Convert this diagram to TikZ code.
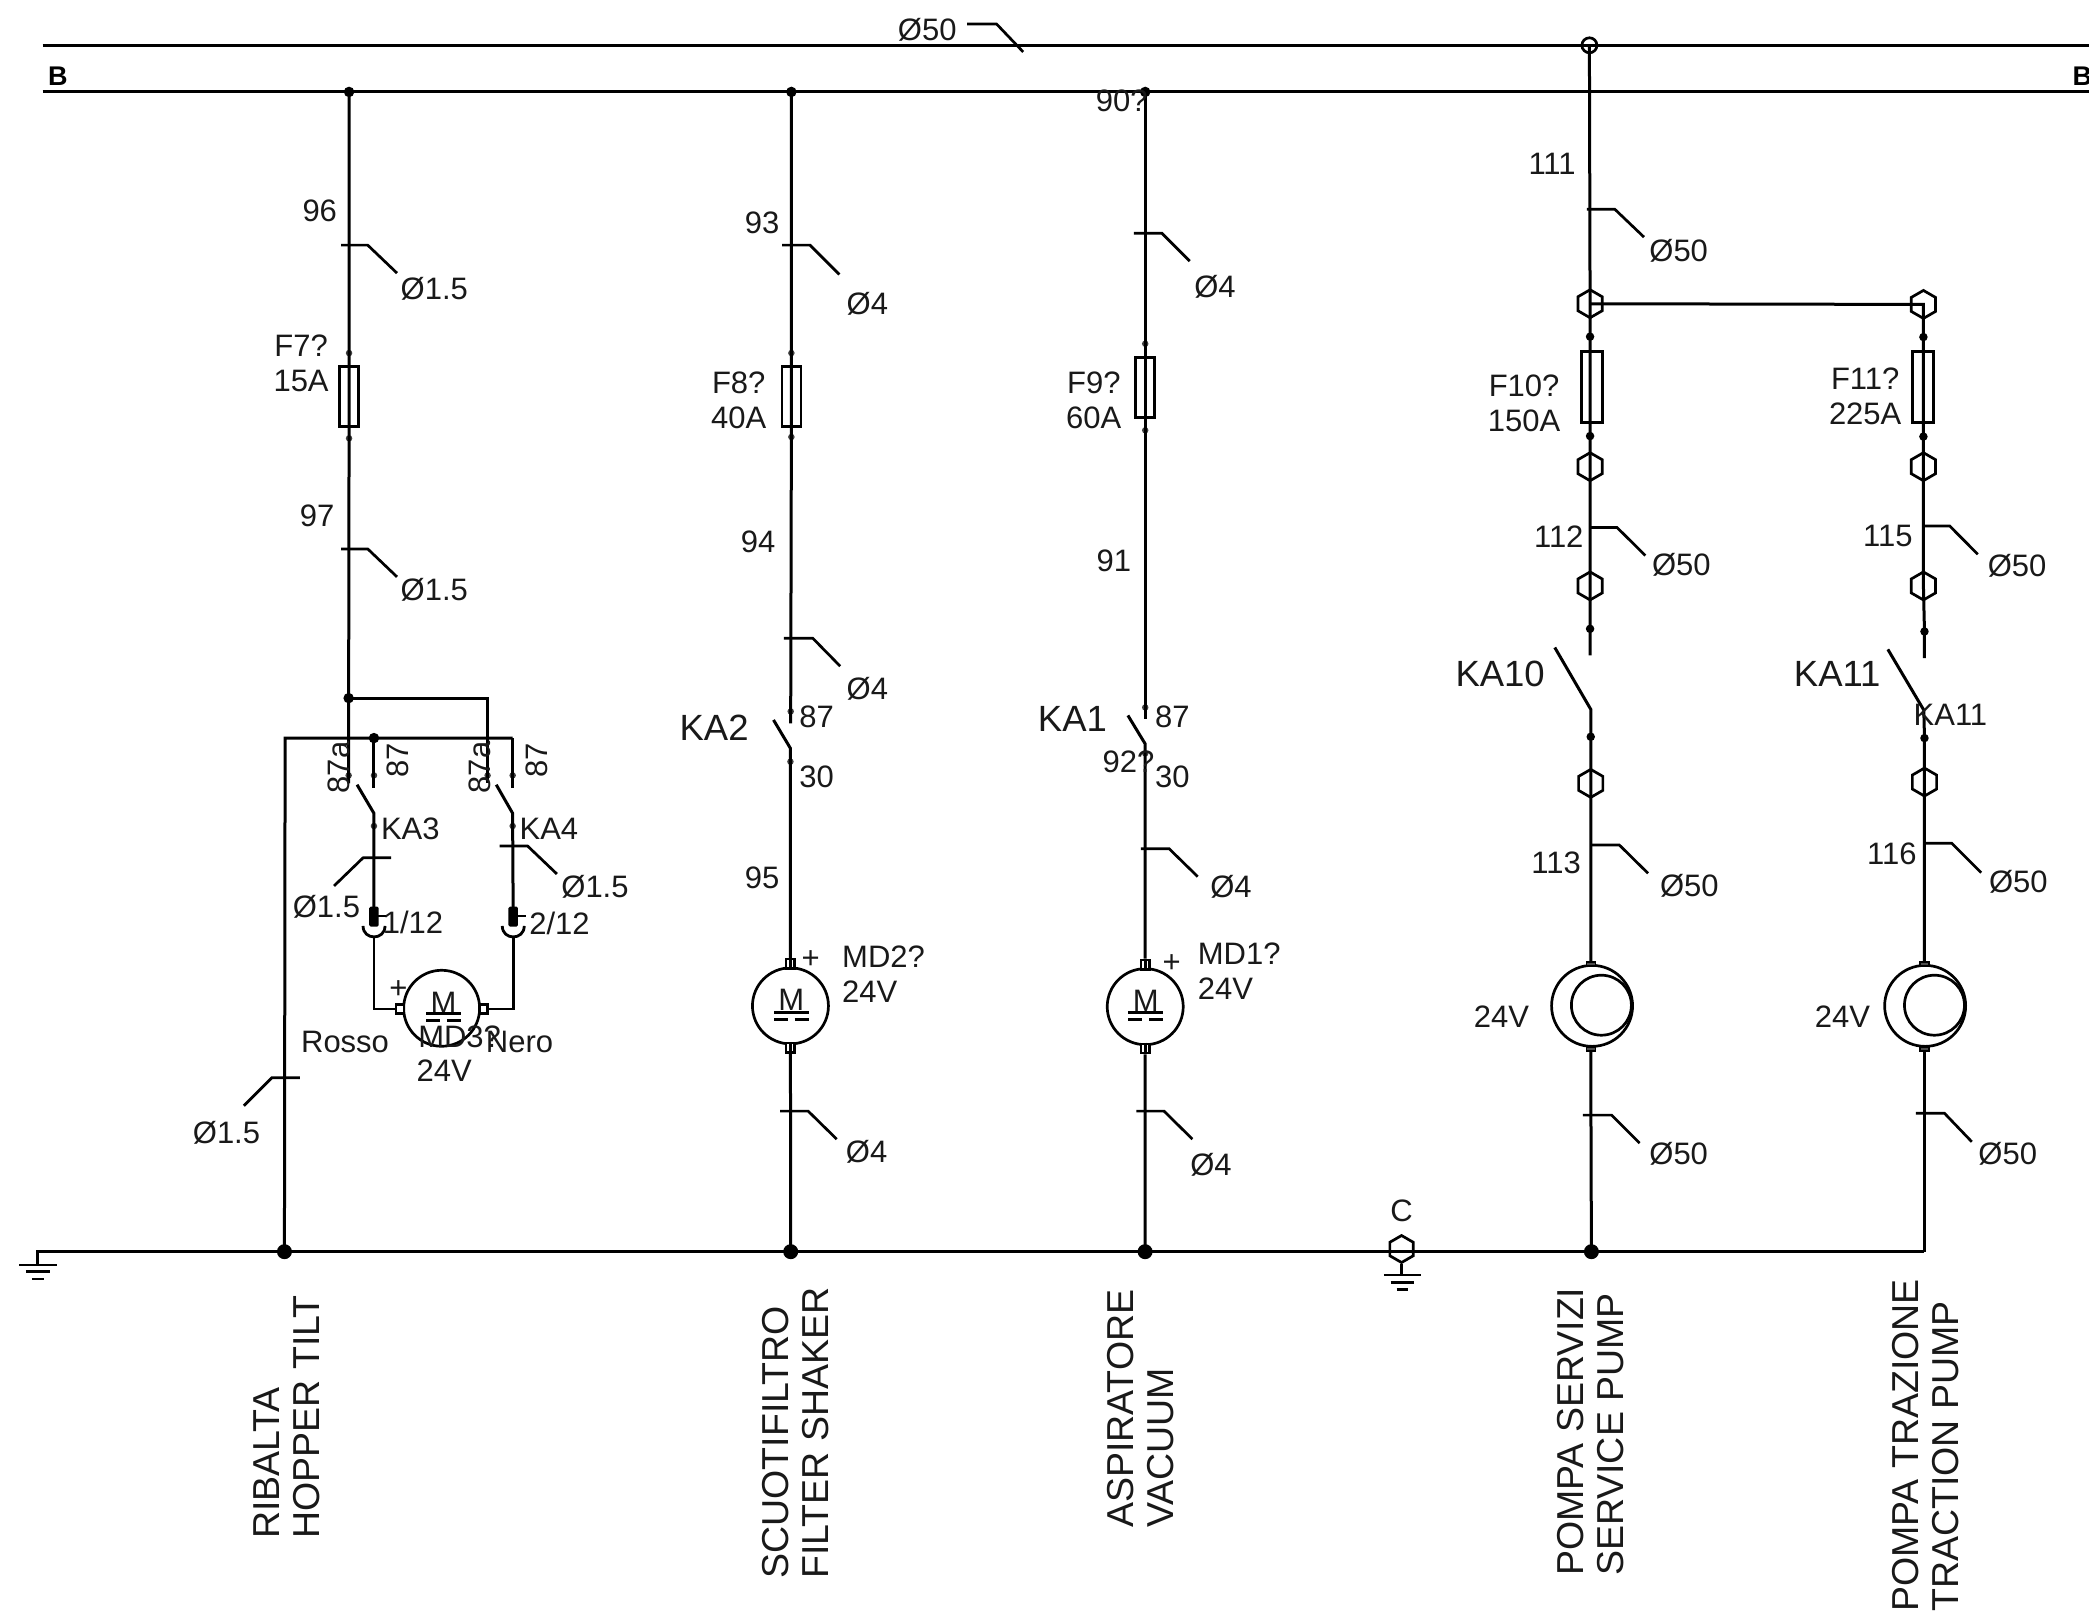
\documentclass[tikz,border=0pt]{standalone}
\usepackage{fontspec}
\setmainfont{Liberation Sans}
\usetikzlibrary{shapes.geometric}
\tikzset{
  wire/.style={line width=3pt,line join=miter,line cap=butt},
  thin wire/.style={line width=2.8pt},
  tagline/.style={line width=2.7pt},
  lbl/.style={inner sep=0pt,font=\fontsize{31}{35}\selectfont,text=black!90},
  biglbl/.style={inner sep=0pt,font=\fontsize{36.5}{40}\selectfont,text=black!90},
  vertlbl/.style={inner sep=0pt,rotate=90,anchor=west,align=left,font=\fontsize{37.5}{40}\selectfont,text=black!90},
  busname/.style={inner sep=0pt,font=\fontsize{27}{30}\bfseries\selectfont},
  bigdot/.style={circle,fill=black,inner sep=0pt,minimum size=15pt},
  busdot/.style={circle,fill=black,inner sep=0pt,minimum size=10.5pt},
  tinydot/.style={circle,fill=black,inner sep=0pt,minimum size=8.5pt},
  faintdot/.style={circle,fill=black!75,inner sep=0pt,minimum size=6.5pt},
  hexnode/.style={regular polygon,regular polygon sides=6,regular polygon rotate=30,draw,line width=2.7pt,inner sep=0pt,minimum size=28pt},
  fusebox/.style={rectangle,draw,line width=2.7pt,inner sep=0pt,minimum width=#1},
  motor/.style={circle,draw,line width=2.7pt,inner sep=0pt,minimum size=#1},
  term/.style={rectangle,draw,fill=white,line width=2.4pt,inner sep=0pt,minimum width=8.5pt,minimum height=9.5pt},
  pumpterm/.style={rectangle,draw,fill=black!70,line width=1.5pt,inner sep=0pt,minimum width=9pt,minimum height=4pt},
  pad/.style={rectangle,rounded corners=1.5pt,fill=black,inner sep=0pt,minimum width=9.5pt,minimum height=20pt},
}
\newcommand{\wiretag}[6]{% id, x start, y, x knee, x end, y end
  \coordinate (#1s) at (#2,#3);
  \coordinate (#1k) at (#4,#3);
  \coordinate (#1e) at (#5,#6);
  \draw[tagline] (#1s) -- (#1k) -- (#1e);
}
\newcommand{\groundsym}[5]{% id, x, y1, half widths handled with fixed ratios
  \coordinate (#1l1) at (#2-14,#3);
  \coordinate (#1r1) at (#2+14,#3);
  \coordinate (#1l2) at (#2-9,#4);
  \coordinate (#1r2) at (#2+9,#4);
  \coordinate (#1l3) at (#2-4.5,#5);
  \coordinate (#1r3) at (#2+4.5,#5);
  \draw[thin wire] (#1l1) -- (#1r1) (#1l2) -- (#1r2) (#1l3) -- (#1r3);
}
\newcommand{\motorbars}[3]{% id, x, y
  \coordinate (#1a) at (#2-13,#3);
  \coordinate (#1b) at (#2+13,#3);
  \coordinate (#1c) at (#2-13,#3+5);
  \coordinate (#1d) at (#2-2.5,#3+5);
  \coordinate (#1f) at (#2+2.5,#3+5);
  \coordinate (#1g) at (#2+13,#3+5);
  \draw[thin wire] (#1a) -- (#1b) (#1c) -- (#1d) (#1f) -- (#1g);
}
\begin{document}
\begin{tikzpicture}[x=1.3323pt,y=-1.3323pt]
\useasboundingbox (0,0) rectangle (1568,1216.7);
\fill[white] (0,0) rectangle (1568,1216.7);

% ---------- buses
\coordinate (busAl) at (32,34); \coordinate (busAr) at (1568,34);
\coordinate (busBl) at (32,69); \coordinate (busBr) at (1568,69);
\draw[wire] (busAl) -- (busAr);
\draw[wire] (busBl) -- (busBr);
\node[busname] (bL) at (43.5,57) {B};
\node[busname] (bR) at (1563,57) {B};
\node[lbl] (tTop) at (696,22) {Ø50};
\coordinate (tgTs) at (726,18); \coordinate (tgTk) at (748,18); \coordinate (tgTe) at (768,39);
\draw[tagline] (tgTs) -- (tgTk) -- (tgTe);

% ---------- ground bus
\coordinate (gndL) at (28.3,939.5);
\coordinate (gndStub) at (28.3,949.5);
\coordinate (gndR) at (1444.5,939.5);
\draw[wire] (gndStub) -- (gndL) -- (gndR);
\groundsym{gA}{28.5}{949.5}{954.5}{960}
\node[hexnode,minimum size=27pt] (hexC) at (1052,937.5) {};
\coordinate (gndC) at (1052,957);
\draw[thin wire] (hexC.south) -- (gndC);
\groundsym{gC}{1052.7}{957}{962.5}{967.7}
\node[lbl] (lblC) at (1052,909) {C};
\node[bigdot] (dA) at (213.5,939.5) {};
\node[bigdot] (dB) at (593.5,939.5) {};
\node[bigdot] (dC) at (859.5,939.5) {};
\node[bigdot] (dD) at (1194.5,939.5) {};

% ---------- column 1 (hopper tilt)
\node[busdot] (aTop) at (262,69) {};
\node[faintdot] (aF1) at (262,265) {};
\node[fusebox=19pt,minimum height=60pt] (aFuse) at (262,297.5) {};
\node[faintdot] (aF2) at (262,329) {};
\node[busdot] (aBr) at (261.7,524) {};
\coordinate (aBrR) at (366,524);
\node[faintdot] (aC1) at (261.7,582) {};
\coordinate (aC1e) at (261.7,588);
\draw[wire] (aTop.center) -- (aF1.center) -- (aFuse.center) -- (aF2.center) -- (aBr.center) -- (aC1.center) -- (aC1e);
\node[faintdot] (bC1) at (366,582) {};
\coordinate (bC1e) at (366,588);
\draw[wire] (aBr.center) -- (aBrR) -- (bC1.center) -- (bC1e);
\coordinate (rtnL) at (214,554);
\coordinate (rtnR) at (384.8,554);
\draw[wire] (dA.center) -- (rtnL) -- (rtnR);
\node[busdot] (aD) at (280.7,554) {};
\node[faintdot] (aC2) at (280.7,582) {};
\coordinate (aC2e) at (280.7,591.5);
\draw[wire] (aD.center) -- (aC2.center) -- (aC2e);
\node[faintdot] (bC2) at (384.8,582) {};
\coordinate (bC2e) at (384.8,591.5);
\draw[wire] (rtnR) -- (bC2.center) -- (bC2e);
% relay KA3
\coordinate (ka3o) at (268,589); \coordinate (ka3p) at (280.7,610.5);
\node[faintdot] (ka3d) at (280.7,620) {};
\node[pad] (padA) at (280.7,688) {};
\coordinate (cupAl) at (272.5,695); \coordinate (cupAr) at (289,695);
\coordinate (cupAb) at (280.7,703);
\coordinate (tickA) at (290.5,687.5); \coordinate (tickAs) at (284,687.5);
\draw[wire] (ka3o) -- (ka3p) -- (ka3d.center) -- (padA.center);
\draw[thin wire] (cupAl) .. controls +(0,11) and +(0,11) .. (cupAr);
\draw[thin wire] (tickAs) -- (tickA);
% relay KA4
\coordinate (ka4o) at (372.5,589); \coordinate (ka4p) at (384.8,610.5);
\node[faintdot] (ka4d) at (384.8,620) {};
\node[pad] (padB) at (385.2,688) {};
\coordinate (cupBl) at (377,695); \coordinate (cupBr) at (393.5,695);
\coordinate (cupBb) at (385.2,703);
\coordinate (tickB) at (395,687.5); \coordinate (tickBs) at (388.5,687.5);
\draw[wire] (ka4o) -- (ka4p) -- (ka4d.center) -- (padB.center);
\draw[thin wire] (cupBl) .. controls +(0,11) and +(0,11) .. (cupBr);
\draw[thin wire] (tickBs) -- (tickB);
% motor MD3
\node[motor=76pt] (mA) at (331.5,756.8) {};
\node[term,minimum width=8.5pt,minimum height=9pt] (mAl) at (300.2,757.4) {};
\node[term,minimum width=8pt,minimum height=9pt] (mAr) at (363,757.4) {};
\coordinate (mAlc) at (280.7,757.4); \coordinate (mArc) at (385.2,757.4);
\draw[thin wire] (cupAb) -- (mAlc) -- (mAl.west);
\draw[thin wire] (cupBb) -- (mArc) -- (mAr.east);
\node[lbl] (mAM) at (333,753) {M};
\motorbars{mAb}{333}{761}
% column 1 labels and tags
\node[lbl] (t96) at (240,158) {96};
\wiretag{tA1}{256}{184}{276}{298}{205}
\node[lbl] (dA1) at (326,217) {Ø1.5};
\node[lbl,align=center] (fA) at (226,272.5) {F7?\\15A};
\node[lbl] (t97) at (238,387) {97};
\wiretag{tA2}{256}{412}{276}{298}{433}
\node[lbl] (dA2) at (326,443) {Ø1.5};
\node[lbl,rotate=90] (n87aA) at (254,576) {87a};
\node[lbl,rotate=90] (n87A) at (298.5,571) {87};
\node[lbl,rotate=90] (n87aB) at (360,576) {87a};
\node[lbl,rotate=90] (n87B) at (403,571) {87};
\node[lbl] (ka3) at (308,622) {KA3};
\node[lbl] (ka4) at (412,622) {KA4};
\wiretag{tA3}{293.5}{643.8}{272.6}{250.7}{665}
\node[lbl] (dA3) at (245,680.5) {Ø1.5};
\wiretag{tA4}{375}{635}{396}{418}{656}
\node[lbl] (dA4) at (446.6,666) {Ø1.5};
\node[lbl] (n112) at (310,692.5) {1/12};
\node[lbl] (n212) at (420,693) {2/12};
\node[lbl] (plusA) at (299,742.5) {+};
\node[lbl] (rosso) at (259,782) {Rosso};
\node[lbl] (md3) at (345,778) {MD3?};
\node[lbl] (nero) at (390,782) {Nero};
\node[lbl] (v3) at (333.4,804) {24V};
\wiretag{tA5}{225}{809}{204}{183}{830}
\node[lbl] (dA5) at (170,850) {Ø1.5};
\node[vertlbl] (capA) at (215.5,1155) {RIBALTA\\HOPPER TILT};

% ---------- column 2 (filter shaker)
\node[busdot] (bTop) at (594,69) {};
\node[faintdot] (bF1) at (594,265) {};
\node[fusebox=19pt,minimum height=60pt] (bFuse) at (594,297.5) {};
\node[faintdot] (bF2) at (594,328) {};
\node[faintdot] (bC87) at (593.5,534) {};
\coordinate (bC87e) at (593.5,543);
\draw[wire] (bTop.center) -- (bF1.center) -- (bFuse.center) -- (bF2.center) -- (bC87.center) -- (bC87e);
\coordinate (bBo) at (580.6,540.4); \coordinate (bBp) at (593.3,561.7);
\node[faintdot] (bC30) at (593.3,571.7) {};
\node[motor=76pt] (mB) at (593.3,755) {};
\node[term] (mBt) at (593.3,723.5) {};
\node[term] (mBb) at (593.3,786.5) {};
\draw[wire] (bBo) -- (bBp) -- (bC30.center) -- (mBt.north);
\draw[wire] (mBb.south) -- (dB.center);
\draw[thin wire] (mBt.north) -- (mBt.south) (mBb.north) -- (mBb.south);
\node[lbl] (bM) at (594,750.5) {M};
\motorbars{mBm}{594}{760}
\node[lbl] (t93) at (572,167) {93};
\wiretag{tB1}{587}{184}{608}{630}{206}
\node[lbl] (dB1) at (651,228) {Ø4};
\node[lbl,align=center] (fB) at (554.5,300.5) {F8?\\40A};
\node[lbl] (t94) at (569,407) {94};
\wiretag{tB2}{588.4}{479}{610}{630.6}{500}
\node[lbl] (dB2) at (651,517) {Ø4};
\node[biglbl] (ka2) at (536,546) {KA2};
\node[lbl] (b87) at (613,538) {87};
\node[lbl] (b30) at (613,583) {30};
\node[lbl] (t95) at (572,659) {95};
\node[lbl] (plusB) at (608.5,720) {+};
\node[lbl,align=left,anchor=west] (md2) at (632,731) {MD2?\\24V};
\wiretag{tB3}{585.5}{834}{606.6}{628}{855}
\node[lbl] (dB3) at (650.5,864.4) {Ø4};
\node[vertlbl] (capB) at (597,1185) {SCUOTIFILTRO\\FILTER SHAKER};

% ---------- column 3 (vacuum)
\node[busdot] (cTop) at (859.6,69) {};
\node[faintdot] (cF1) at (859.6,258) {};
\node[fusebox=19pt,minimum height=60pt] (cFuse) at (859.6,291) {};
\node[faintdot] (cF2) at (859.6,323) {};
\node[faintdot] (cC87) at (859.6,531) {};
\coordinate (cC87e) at (859.6,539.7);
\draw[wire] (cTop.center) -- (cF1.center) -- (cFuse.center) -- (cF2.center) -- (cC87.center) -- (cC87e);
\coordinate (cBo) at (846.6,537); \coordinate (cBp) at (859.6,558.4);
\node[faintdot] (cC30) at (859.6,565.5) {};
\node[motor=76pt] (mC) at (859.6,755.6) {};
\node[term] (mCt) at (859.6,724) {};
\node[term] (mCb) at (859.6,787) {};
\draw[wire] (cBo) -- (cBp) -- (cC30.center) -- (mCt.north);
\draw[wire] (mCb.south) -- (dC.center);
\draw[thin wire] (mCt.north) -- (mCt.south) (mCb.north) -- (mCb.south);
\node[lbl] (cM) at (860,751) {M};
\motorbars{mCm}{860}{760}
\node[lbl] (t90) at (842,76) {90?};
\wiretag{tC1}{851}{175}{872}{893}{196}
\node[lbl] (dC1) at (912,215) {Ø4};
\node[lbl,align=center] (fC) at (821,300.5) {F9?\\60A};
\node[lbl] (t91) at (836,421) {91};
\node[biglbl] (ka1) at (805,540) {KA1};
\node[lbl] (c87) at (880,538) {87};
\node[lbl] (c92) at (847,572) {92?};
\node[lbl] (c30) at (880,583) {30};
\wiretag{tC2}{856.4}{637}{877.5}{899}{658}
\node[lbl] (dC2) at (924,666) {Ø4};
\node[lbl] (plusC) at (879.5,723) {+};
\node[lbl,align=left,anchor=west] (md1) at (899,729) {MD1?\\24V};
\wiretag{tC3}{853}{834}{873.7}{895}{855}
\node[lbl] (dC3) at (909,874) {Ø4};
\node[vertlbl] (capC) at (856,1147) {ASPIRATORE\\VACUUM};

% ---------- column 4 (service pump)
\node[circle,draw,line width=2.7pt,inner sep=0pt,minimum size=15pt] (dJ) at (1193,34) {};
\node[hexnode] (dH1) at (1193.5,228) {};
\node[tinydot] (dF1) at (1193.5,252.7) {};
\node[fusebox=21pt,minimum height=70.6pt] (dFuse) at (1194.7,290.5) {};
\node[tinydot] (dF2) at (1193.5,327.3) {};
\node[hexnode] (dH2) at (1193.5,350.3) {};
\node[hexnode] (dH3) at (1193.5,439.8) {};
\node[tinydot] (dC1) at (1193.5,472) {};
\coordinate (dC1e) at (1193.5,492);
\draw[wire] (dJ.center) -- (dH1.center) -- (dF1.center) -- (dF2.center) -- (dH2.center) -- (dH3.center) -- (dC1.center) -- (dC1e);
\coordinate (dBo) at (1167,486); \coordinate (dBp) at (1194,532.4);
\node[tinydot] (dC2) at (1194,553) {};
\node[hexnode] (dH4) at (1194,588) {};
\node[motor=81pt] (mD) at (1195,755) {};
\node[motor=60pt] (mDi) at (1202,754.5) {};
\node[pumpterm] (mDt) at (1194,723.5) {};
\node[pumpterm] (mDb) at (1194,787.5) {};
\draw[wire] (dBo) -- (dBp) -- (dC2.center) -- (dH4.center) -- (mDt.north);
\draw[wire] (mDb.south) -- (dD.center);
\node[lbl] (t111) at (1165,123) {111};
\wiretag{tD1}{1191}{157}{1212}{1234}{178}
\node[lbl] (dD1) at (1260,188) {Ø50};
\node[lbl,align=center] (fD) at (1144,302.5) {F10?\\150A};
\node[lbl] (t112) at (1170,403) {112};
\wiretag{tD2}{1193.5}{396}{1213.8}{1235}{417}
\node[lbl] (dD2) at (1262,424) {Ø50};
\node[biglbl] (ka10) at (1126,506) {KA10};
\node[lbl] (t113) at (1168,648) {113};
\wiretag{tD3}{1194}{634.3}{1215.5}{1237}{655.5}
\node[lbl] (dD3) at (1268,665) {Ø50};
\node[lbl] (vD) at (1127,763) {24V};
\wiretag{tD4}{1188}{837}{1209.6}{1230.7}{858}
\node[lbl] (dD4) at (1260,866) {Ø50};
\node[vertlbl] (capD) at (1194,1183) {POMPA SERVIZI\\SERVICE PUMP};

% ---------- column 5 (traction pump)
\node[hexnode] (eH1) at (1443.7,228.5) {};
\node[tinydot] (eF1) at (1443.7,253) {};
\node[fusebox=21pt,minimum height=70.6pt] (eFuse) at (1443.5,290.5) {};
\node[tinydot] (eF2) at (1443.7,327.7) {};
\node[hexnode] (eH2) at (1443.7,350.3) {};
\node[hexnode] (eH3) at (1443.7,439.8) {};
\node[tinydot] (eC1) at (1444.5,474) {};
\coordinate (eC1e) at (1444.5,494);
\draw[wire] (dH1.center) -- (eH1.center) -- (eF1.center) -- (eF2.center) -- (eH2.center) -- (eH3.center) -- (eC1.center) -- (eC1e);
\coordinate (eBo) at (1417,487.4); \coordinate (eBp) at (1444,533);
\node[tinydot] (eC2) at (1444.5,554) {};
\node[hexnode] (eH4) at (1444.5,587) {};
\node[motor=81pt] (mE) at (1445,755) {};
\node[motor=60pt] (mEi) at (1452,754.5) {};
\node[pumpterm] (mEt) at (1444.5,723.5) {};
\node[pumpterm] (mEb) at (1444.5,787.5) {};
\draw[wire] (eBo) -- (eBp) -- (eC2.center) -- (eH4.center) -- (mEt.north);
\draw[wire] (mEb.south) -- (gndR);
\node[lbl,align=center] (fE) at (1400,297.5) {F11?\\225A};
\node[lbl] (t115) at (1417,402) {115};
\wiretag{tE1}{1443.7}{394.8}{1463.4}{1484.5}{416}
\node[lbl] (dE1) at (1514,425) {Ø50};
\node[biglbl] (ka11) at (1379,506) {KA11};
\node[lbl] (ka11s) at (1464,536.7) {KA11};
\node[lbl] (t116) at (1420,641) {116};
\wiretag{tE2}{1444.5}{633}{1465}{1487}{655}
\node[lbl] (dE2) at (1515,662) {Ø50};
\node[lbl] (vE) at (1383,763) {24V};
\wiretag{tE3}{1438}{835.6}{1459.5}{1480}{857}
\node[lbl] (dE3) at (1507,866) {Ø50};
\node[vertlbl] (capE) at (1445,1210) {POMPA TRAZIONE\\TRACTION PUMP};
\end{tikzpicture}
\end{document}
